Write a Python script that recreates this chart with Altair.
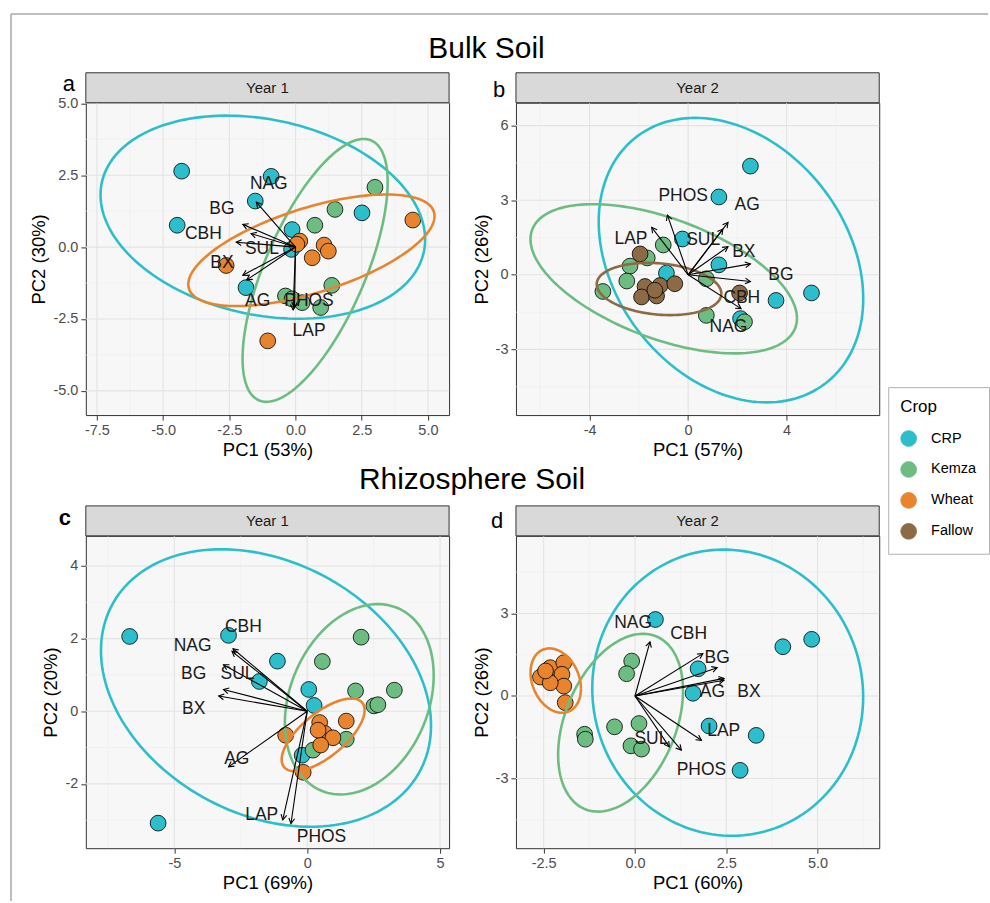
import math
import altair as alt
import numpy as np
import pandas as pd

FONT = "Liberation Sans"
W, H = 364, 313

crops = ["CRP", "Kemza", "Wheat", "Fallow"]
crop_colors = ["#2CBFCB", "#6DBD83", "#E9842E", "#8C6A45"]
enzymes = ["NAG", "BG", "CBH", "SUL", "BX", "AG", "PHOS", "LAP"]

# ---------------- Panel a : Bulk soil, Year 1 ----------------
a_crp_x = [-4.30, -0.92, -1.52, -4.47, -0.13, -0.15, 2.51, -1.87]
a_crp_y = [2.64, 2.46, 1.60, 0.76, 0.61, -0.08, 1.19, -1.41]
a_kemza_x = [3.00, 1.49, 0.73, 1.37, -0.38, 0.25, 0.95, -0.13]
a_kemza_y = [2.08, 1.31, 0.76, -1.33, -1.70, -1.93, -2.10, -1.80]
a_wheat_x = [4.43, 0.16, 1.08, 1.24, 0.63, -2.62, -1.05, 0.05]
a_wheat_y = [0.94, 0.21, 0.07, -0.14, -0.37, -0.64, -3.26, 0.10]
a_tip_x = [-1.48, -1.99, -1.68, -2.24, -1.99, -1.84, -0.09, -0.04]
a_tip_y = [1.56, 0.79, 0.47, 0.17, -0.98, -1.14, -2.18, -2.10]
a_lab_x = [-1.01, -2.78, -3.48, -1.27, -2.78, -1.43, 0.51, 0.51]
a_lab_y = [2.21, 1.31, 0.47, -0.06, -0.57, -1.87, -1.87, -2.91]
a_ell_crop = ["CRP", "Kemza", "Wheat"]
a_ell_cx = [-1.235, 0.74, 0.60]
a_ell_cy = [1.04, -0.81, -0.11]
a_ell_ax = [6.13, 2.74, 4.65]
a_ell_ay = [3.53, 4.57, 1.94]
a_ell_c = [-0.22, 0.67, 0.61]

# ---------------- Panel b : Bulk soil, Year 2 ----------------
b_crp_x = [2.53, 1.25, -0.23, 1.25, -0.88, 3.57, 5.01, 2.13]
b_crp_y = [4.37, 3.13, 1.44, 0.40, 0.07, -1.03, -0.73, -1.76]
b_kemza_x = [-1.01, -1.66, -2.36, -2.49, -3.46, 0.74, 0.74, 2.29]
b_kemza_y = [1.20, 0.68, 0.35, -0.25, -0.67, -0.16, -1.63, -1.89]
b_fallow_x = [-1.95, -1.75, -1.89, -1.28, -1.14, -0.54, 2.09, -1.35]
b_fallow_y = [0.84, -0.47, -0.89, -0.85, -0.43, -0.36, -0.73, -0.62]
b_tip_x = [2.15, 2.53, 2.53, 1.41, 1.62, 1.62, -0.84, -1.48]
b_tip_y = [-1.36, 0.44, -0.27, 1.84, 1.13, 2.11, 2.40, 1.91]
b_lab_x = [1.64, 3.77, 2.18, 0.61, 2.26, 2.40, -0.20, -2.32]
b_lab_y = [-2.09, 0.00, -0.93, 1.40, 0.91, 2.81, 3.17, 1.44]
b_ell_crop = ["CRP", "Kemza", "Fallow"]
b_ell_cx = [1.74, -0.99, -1.18]
b_ell_cy = [0.59, -0.16, -0.57]
b_ell_ax = [5.37, 5.41, 2.53]
b_ell_ay = [5.72, 3.00, 1.05]
b_ell_c = [-0.27, -0.53, -0.18]

# ---------------- Panel c : Rhizosphere soil, Year 1 ----------------
c_crp_x = [-6.68, -2.96, -1.12, -1.80, 0.06, 0.26, -0.19, -5.61]
c_crp_y = [2.06, 2.09, 1.38, 0.82, 0.60, 0.16, -1.21, -3.08]
c_kemza_x = [2.03, 0.57, 1.82, 3.28, 2.51, 2.66, 1.47, 0.22]
c_kemza_y = [2.04, 1.37, 0.56, 0.58, 0.15, 0.18, -0.77, -1.07]
c_wheat_x = [0.47, 1.47, 0.66, 0.97, 0.51, -0.81, -0.15, 0.41]
c_wheat_y = [-0.31, -0.27, -0.61, -0.73, -0.93, -0.66, -1.68, -0.52]
c_tip_x = [-2.83, -3.15, -2.79, -3.15, -3.33, -2.96, -0.61, -0.92]
c_tip_y = [1.65, 0.60, 1.72, 1.28, 0.42, -1.53, -3.09, -2.99]
c_lab_x = [-4.31, -4.27, -2.40, -2.62, -4.27, -2.65, 0.54, -1.71]
c_lab_y = [1.81, 1.03, 2.32, 1.03, 0.05, -1.32, -3.45, -2.87]
c_ell_crop = ["CRP", "Kemza", "Wheat"]
c_ell_cx = [-1.55, 1.96, 0.60]
c_ell_cy = [0.64, 0.33, -0.65]
c_ell_ax = [6.21, 2.80, 1.56]
c_ell_ay = [3.82, 2.62, 1.00]
c_ell_c = [-0.27, 0.25, 0.68]

# ---------------- Panel d : Rhizosphere soil, Year 2 ----------------
d_crp_x = [0.56, 4.05, 4.84, 1.73, 1.59, 2.03, 3.32, 2.88]
d_crp_y = [2.78, 1.79, 2.06, 0.99, 0.10, -1.09, -1.43, -2.70]
d_kemza_x = [-0.09, -0.23, -0.56, 0.11, -1.38, -1.36, -0.11, 0.18]
d_kemza_y = [1.27, 0.81, -1.12, -1.00, -1.39, -1.57, -1.81, -1.93]
d_wheat_x = [-2.59, -2.32, -1.95, -2.00, -1.95, -1.91, -2.32, -2.45]
d_wheat_y = [0.69, 1.03, 1.21, 0.79, 0.36, -0.24, 0.48, 0.91]
d_tip_x = [0.41, 2.25, 1.86, 0.94, 2.44, 2.44, 1.27, 1.82]
d_tip_y = [1.97, 1.03, 1.54, -1.85, 0.57, 0.64, -1.97, -1.61]
d_lab_x = [-0.05, 2.25, 1.47, 0.45, 3.12, 2.12, 1.82, 2.43]
d_lab_y = [2.66, 1.37, 2.26, -1.57, 0.15, 0.16, -2.70, -1.27]
d_ell_crop = ["CRP", "Kemza", "Wheat"]
d_ell_cx = [2.54, -0.395, -2.17]
d_ell_cy = [0.12, -0.97, 0.56]
d_ell_ax = [3.71, 1.71, 0.69]
d_ell_ay = [5.20, 3.23, 1.17]
d_ell_c = [-0.03, 0.36, -0.25]

# axis ranges / ticks
a_xdom, a_ydom = [-7.92, 5.80], [-5.84, 5.02]
b_xdom, b_ydom = [-6.99, 7.76], [-5.64, 6.92]
c_xdom, c_ydom = [-8.33, 5.34], [-3.77, 4.83]
d_xdom, d_ydom = [-3.26, 6.69], [-5.53, 5.82]
a_xticks, a_yticks = [-7.5, -5.0, -2.5, 0.0, 2.5, 5.0], [-5.0, -2.5, 0.0, 2.5, 5.0]
b_xticks, b_yticks = [-4, 0, 4], [-3, 0, 3, 6]
c_xticks, c_yticks = [-5, 0, 5], [-2, 0, 2, 4]
d_xticks, d_yticks = [-2.5, 0.0, 2.5, 5.0], [-3, 0, 3]
a_xminor, a_yminor = [-6.25, -3.75, -1.25, 1.25, 3.75], [-3.75, -1.25, 1.25, 3.75]
b_xminor, b_yminor = [-6, -2, 2, 6], [-4.5, -1.5, 1.5, 4.5]
c_xminor, c_yminor = [-7.5, -2.5, 2.5], [-3, -1, 1, 3]
d_xminor, d_yminor = [-1.25, 1.25, 3.75, 6.25], [-4.5, -1.5, 1.5, 4.5]

fill_scale = alt.Scale(domain=crops, range=crop_colors)
stroke_scale = alt.Scale(domain=crops, range=crop_colors)
ARROW = "M-0.55,1L0,0L0.55,1"


def fmt_expr(f):
    return "replace(format(datum.value, '" + f + "'), '\u2212', '-')"


def ellipse_df(crop, cx, cy, ax, ay, c):
    rows = []
    t = np.linspace(0, 2 * np.pi, 161)
    for k in range(len(crop)):
        d = math.acos(c[k])
        for i, tt in enumerate(t):
            rows.append({"crop": crop[k], "i": i,
                         "x": cx[k] + ax[k] * math.cos(tt),
                         "y": cy[k] + ay[k] * math.cos(tt - d)})
    return pd.DataFrame(rows)


def make_panel(pts, tip_x, tip_y, lab_x, lab_y, ell, xdom, ydom, xticks, yticks,
               xminor, yminor, xfmt, yfmt, xtitle, ytitle, year, letter,
               letter_pos, letter_weight, extras=None, legend=None):
    xs = alt.Scale(domain=xdom, nice=False, zero=False)
    ys = alt.Scale(domain=ydom, nice=False, zero=False)
    xax = alt.Axis(values=xticks, labelExpr=fmt_expr(xfmt), title=xtitle, grid=False)
    yax = alt.Axis(values=yticks, labelExpr=fmt_expr(yfmt), title=ytitle, grid=False)

    def X(f):
        return alt.X(f, type="quantitative", scale=xs, axis=xax)

    def Y(f):
        return alt.Y(f, type="quantitative", scale=ys, axis=yax)

    layers = []
    layers.append(alt.Chart(pd.DataFrame({"v": xminor})).mark_rule(
        color="#EEEEEE", strokeWidth=0.6).encode(x=X("v")))
    layers.append(alt.Chart(pd.DataFrame({"v": yminor})).mark_rule(
        color="#EEEEEE", strokeWidth=0.6).encode(y=Y("v")))
    layers.append(alt.Chart(pd.DataFrame({"v": xticks})).mark_rule(
        color="#E3E3E3", strokeWidth=1.1).encode(x=X("v")))
    layers.append(alt.Chart(pd.DataFrame({"v": yticks})).mark_rule(
        color="#E3E3E3", strokeWidth=1.1).encode(y=Y("v")))

    rows = []
    for crop, xs_, ys_ in pts:
        for xv, yv in zip(xs_, ys_):
            rows.append({"crop": crop, "x": xv, "y": yv})
    pdf = pd.DataFrame(rows)
    layers.append(alt.Chart(pdf).mark_circle(size=250, opacity=1, stroke="black", strokeWidth=0.8).encode(
        x=X("x"), y=Y("y"), fill=alt.Fill("crop:N", scale=fill_scale, title="Crop", legend=legend)))

    edf = ellipse_df(*ell)
    layers.append(alt.Chart(edf).mark_line(strokeWidth=2.6, clip=True).encode(
        x=X("x"), y=Y("y"),
        stroke=alt.Stroke("crop:N", scale=stroke_scale, legend=None),
        detail="crop:N", order="i:Q"))

    sx = W / (xdom[1] - xdom[0])
    sy = H / (ydom[1] - ydom[0])
    angs = [(math.degrees(math.atan2(tx * sx, ty * sy)) + 360) % 360 for tx, ty in zip(tip_x, tip_y)]
    adf = pd.DataFrame({"name": enzymes, "x0": [0.0] * len(enzymes), "y0": [0.0] * len(enzymes),
                        "tx": tip_x, "ty": tip_y, "ang": angs, "lx": lab_x, "ly": lab_y})
    layers.append(alt.Chart(adf).mark_rule(color="black", strokeWidth=1.1).encode(
        x=X("x0"), y=Y("y0"), x2="tx", y2="ty"))
    layers.append(alt.Chart(adf).mark_point(shape=ARROW, size=110, filled=False, color="black",
                                            strokeWidth=1.1, opacity=1).encode(
        x=X("tx"), y=Y("ty"), angle=alt.Angle("ang:Q", scale=None)))
    layers.append(alt.Chart(adf).mark_text(font=FONT, fontSize=17.5, color="#1A1A1A",
                                           align="center", baseline="middle").encode(
        x=X("lx"), y=Y("ly"), text="name:N"))

    # strip
    sdf = pd.DataFrame({"s": [year]})
    layers.append(alt.Chart(sdf).mark_rect(fill="#D9D9D9", stroke="#333333", strokeWidth=1).encode(
        x=alt.value(0), x2=alt.value(W), y=alt.value(-30), y2=alt.value(0)))
    layers.append(alt.Chart(sdf).mark_text(font=FONT, fontSize=15, color="#1A1A1A",
                                           align="center", baseline="middle").encode(
        x=alt.value(W / 2), y=alt.value(-15), text="s:N"))
    ldf = pd.DataFrame({"l": [letter]})
    layers.append(alt.Chart(ldf).mark_text(font=FONT, fontSize=22, fontWeight=letter_weight, color="black",
                                           align="center", baseline="alphabetic").encode(
        x=alt.value(letter_pos[0]), y=alt.value(letter_pos[1]), text="l:N"))
    if extras:
        layers.extend(extras)
    return alt.layer(*layers).properties(width=W, height=H)


def title_layer(text, x, y):
    return alt.Chart(pd.DataFrame({"t": [text]})).mark_text(
        font=FONT, fontSize=30, color="black", align="center", baseline="alphabetic").encode(
        x=alt.value(x), y=alt.value(y), text="t:N")


frame = [
    alt.Chart(pd.DataFrame({"f": [1]})).mark_rule(color="#A8A8A8", strokeWidth=1.5).encode(
        x=alt.value(-75), y=alt.value(-89), y2=alt.value(800)),
    alt.Chart(pd.DataFrame({"f": [1]})).mark_rule(color="#A8A8A8", strokeWidth=1.5).encode(
        x=alt.value(-75), x2=alt.value(904), y=alt.value(-89)),
]

legend = alt.Legend(orient="none", legendX=804, legendY=285, title="Crop",
                    titleFont=FONT, titleFontSize=17, titleFontWeight="normal", titleColor="black",
                    labelFont=FONT, labelFontSize=14.5, labelColor="black",
                    symbolType="circle", symbolSize=250, symbolStrokeColor="black",
                    symbolStrokeWidth=0.8, symbolOpacity=1,
                    padding=12, rowPadding=10, titlePadding=14, labelOffset=14,
                    strokeColor="#B3B3B3", fillColor="white", cornerRadius=0)

pa = make_panel([("CRP", a_crp_x, a_crp_y), ("Kemza", a_kemza_x, a_kemza_y), ("Wheat", a_wheat_x, a_wheat_y)],
                a_tip_x, a_tip_y, a_lab_x, a_lab_y,
                (a_ell_crop, a_ell_cx, a_ell_cy, a_ell_ax, a_ell_ay, a_ell_c),
                a_xdom, a_ydom, a_xticks, a_yticks, a_xminor, a_yminor, ".1f", ".1f",
                "PC1 (53%)", "PC2 (30%)", "Year 1", "a", (-17, -12), "normal",
                extras=frame + [title_layer("Bulk Soil", 401.5, -45)], legend=legend)
pb = make_panel([("CRP", b_crp_x, b_crp_y), ("Kemza", b_kemza_x, b_kemza_y), ("Fallow", b_fallow_x, b_fallow_y)],
                b_tip_x, b_tip_y, b_lab_x, b_lab_y,
                (b_ell_crop, b_ell_cx, b_ell_cy, b_ell_ax, b_ell_ay, b_ell_c),
                b_xdom, b_ydom, b_xticks, b_yticks, b_xminor, b_yminor, "d", "d",
                "PC1 (57%)", "PC2 (26%)", "Year 2", "b", (-17, -6), "normal", legend=legend)
pc = make_panel([("CRP", c_crp_x, c_crp_y), ("Kemza", c_kemza_x, c_kemza_y), ("Wheat", c_wheat_x, c_wheat_y)],
                c_tip_x, c_tip_y, c_lab_x, c_lab_y,
                (c_ell_crop, c_ell_cx, c_ell_cy, c_ell_ax, c_ell_ay, c_ell_c),
                c_xdom, c_ydom, c_xticks, c_yticks, c_xminor, c_yminor, "d", "d",
                "PC1 (69%)", "PC2 (20%)", "Year 1", "c", (-21, -11), "bold",
                extras=[title_layer("Rhizosphere Soil", 387, -47)], legend=legend)
pd_ = make_panel([("CRP", d_crp_x, d_crp_y), ("Kemza", d_kemza_x, d_kemza_y), ("Wheat", d_wheat_x, d_wheat_y)],
                 d_tip_x, d_tip_y, d_lab_x, d_lab_y,
                 (d_ell_crop, d_ell_cx, d_ell_cy, d_ell_ax, d_ell_ay, d_ell_c),
                 d_xdom, d_ydom, d_xticks, d_yticks, d_xminor, d_yminor, ".1f", "d",
                 "PC1 (60%)", "PC2 (26%)", "Year 2", "d", (-19, -8), "normal", legend=legend)

chart = alt.concat(pa, pb, pc, pd_, columns=2, spacing={"row": 121, "column": 67}, bounds="flush").resolve_scale(
    x="independent", y="independent", fill="shared", stroke="shared"
).properties(
    padding={"left": 9, "top": 11, "right": 0, "bottom": 0}, background="white"
).configure_view(
    fill="#F7F7F7", stroke="#333333", strokeWidth=1
).configure_axis(
    labelFont=FONT, labelFontSize=14.5, labelColor="#4D4D4D", labelPadding=3,
    tickColor="#333333", tickSize=5, tickWidth=1, domain=False,
    titleFont=FONT, titleFontSize=18.5, titleFontWeight="normal", titleColor="black",
    titlePadding=4
)

chart.save("out.html", embed_options={"renderer": "svg", "actions": False})
